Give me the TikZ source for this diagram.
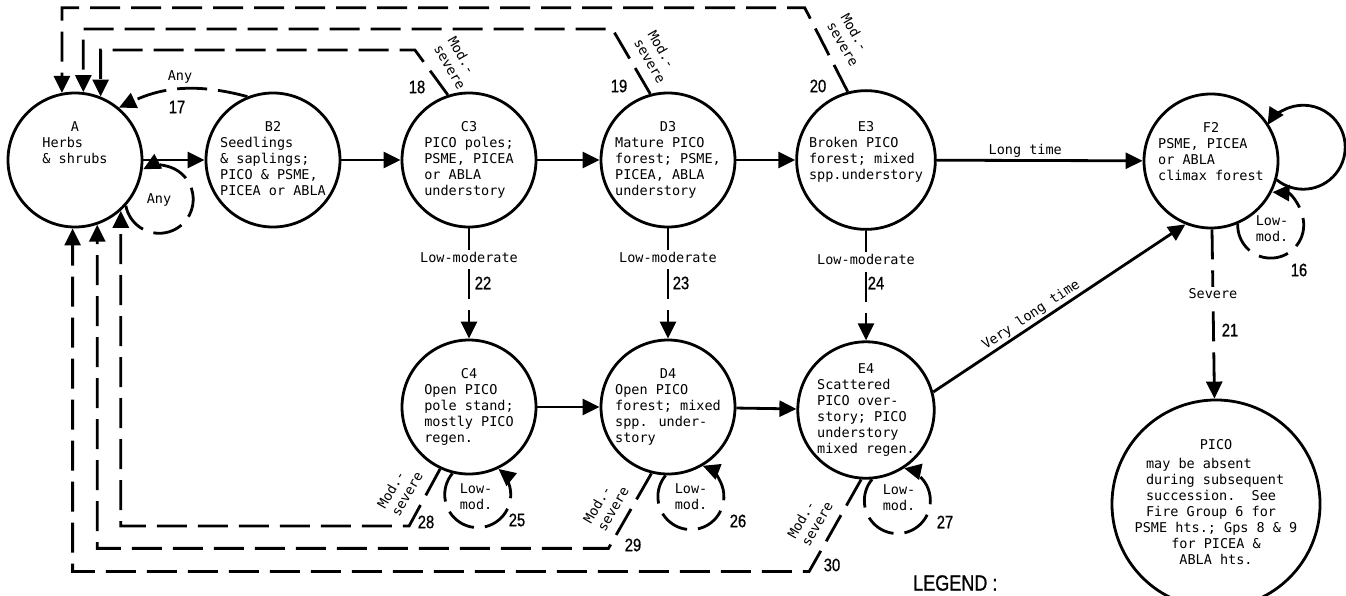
\documentclass[tikz,border=0pt]{standalone}
\usepackage{fontspec}
\usetikzlibrary{arrows.meta}
\newfontfamily\monofam{DejaVu Sans Mono}
\newfontfamily\numfam[FakeStretch=0.82,FakeBold=0.8]{Liberation Sans}
\newcommand{\stagefont}{\monofam\fontsize{13.5}{16}\selectfont}
\newcommand{\firenumfont}{\numfam\fontsize{18}{18}\selectfont}
\newcommand{\legendfont}{\numfam\fontsize{22}{22}\selectfont}
\newcommand{\stagetext}[2]{\begin{tabular}{@{}l@{}}\multicolumn{1}{@{}c@{}}{#1}\\#2\end{tabular}}
\tikzset{
  stage/.style={circle, draw, line width=2.8pt, minimum size=134pt, inner sep=0pt, font=\stagefont},
  succ/.style={line width=2.8pt, -{Triangle[length=17pt,width=16pt]}},
  burn/.style={succ, dash pattern=on 30pt off 11pt},
  note/.style={font=\stagefont, inner sep=2pt},
  firenum/.style={font=\firenumfont, inner sep=0pt}
}
\begin{document}
\begin{tikzpicture}[x=1pt,y=1pt]
\useasboundingbox (0,0) rectangle (1346,-595);
% stages, upper row
\node[stage] (A)  at (75,-160)   {\stagetext{A}{Herbs\\\& shrubs\\~\\~}};
\node[stage] (B2) at (273,-160)  {\stagetext{B2}{Seedlings\\\& saplings;\\PICO \& PSME,\\PICEA or ABLA}};
\node[stage] (C3) at (469,-160)  {\stagetext{C3}{PICO poles;\\PSME, PICEA\\or ABLA\\understory}};
\node[stage] (D3) at (668,-160)  {\stagetext{D3}{Mature PICO\\forest; PSME,\\PICEA, ABLA\\understory}};
\node[stage] (E3) at (866,-160)  {\stagetext{E3}{Broken PICO\\forest; mixed\\spp.understory\\~}};
\node[stage] (F2) at (1211,-161) {\stagetext{F2}{PSME, PICEA\\or ABLA\\climax forest\\~}};
% stages, lower row
\node[stage] (C4) at (469,-407)  {\stagetext{C4}{Open PICO\\pole stand;\\mostly PICO\\regen.}};
\node[stage] (D4) at (668,-407)  {\stagetext{D4}{Open PICO\\forest; mixed\\spp. under-\\story}};
\node[stage] (E4) at (866,-410)  {\stagetext{E4}{Scattered\\PICO over-\\story; PICO\\understory\\mixed regen.}};
\node[stage, minimum size=180pt] (pico) at (1216,-504) {\begin{tabular}{@{}c@{}}PICO\\[3pt]
  \makebox[140pt][l]{may be absent}\\\makebox[140pt][l]{during subsequent}\\
  \makebox[140pt][l]{succession.\ \ See}\\\makebox[140pt][l]{Fire Group 6 for}\\
  PSME hts.; Gps 8 \& 9\\for PICEA \&\\ABLA hts.\end{tabular}};

% succession
\draw[succ] (A) -- (B2);
\draw[succ] (B2) -- (C3);
\draw[succ] (C3) -- (D3);
\draw[succ] (D3) -- (E3);
\draw[succ] (E3) -- node[note, above, pos=0.43] (lt) {Long time} (F2);
\draw[succ] (C4) -- (D4);
\draw[succ] (D4) -- (E4);
\draw[succ] (E4.15) -- node[note, above, sloped, pos=0.41] (vlt) {Very long time} (F2.-112);
\draw[succ] (F2.-16) arc[start angle=231, end angle=508, radius=42];

% low-moderate fires
\draw[burn] (C3) -- node[note, fill=white, pos=0.26] (lm22) {Low-moderate} (C4);
\draw[burn] (D3) -- node[note, fill=white, pos=0.26] (lm23) {Low-moderate} (D4);
\draw[burn] (E3) -- node[note, fill=white, pos=0.26] (lm24) {Low-moderate} (E4);
\draw[burn] (F2) -- node[note, fill=white, pos=0.38] (sv21) {Severe} (pico);

% loops
\draw[burn] (A.-42) arc[start angle=191, end angle=478, radius=34];
\draw[burn] (C4.-104) arc[start angle=140, end angle=411, radius=33];
\draw[burn] (D4.-92) arc[start angle=140, end angle=429, radius=33];
\draw[burn] (E4.-85) arc[start angle=140, end angle=438, radius=33];
\draw[burn] (F2.-67.5) arc[start angle=178, end angle=447, radius=33];
\node[note] (any) at (159,-200) {Any};
\node[note, align=left] (lm25) at (476,-497) {Low-\\mod.};
\node[note, align=left] (lm26) at (691,-497) {Low-\\mod.};
\node[note, align=left] (lm27) at (899,-498) {Low-\\mod.};
\node[note, align=left] (lm16) at (1272,-229) {Low-\\mod.};

% back to A
\draw[burn] (B2.112) to[out=165, in=25] (A.50);
\node[note] (any17) at (180,-77) {Any};
\draw[burn] (C3.108) -- ++(-33,45) -| (A.68);
\draw[burn] (D3.105) -- ++(-38,65) -| (A.83);
\draw[burn] (E3.105) -- ++(-43,84) -| (A.101);
\draw[burn] (C4.-115) -- ++(-31,-57) -| (A.-48);
\draw[burn] (D4.-104) -- ++(-43,-75) -| (A.-71);
\draw[burn] (E4.-94) -- ++(-52,-92) -| (A.-92);
\node[note, rotate=-60, align=left] (ms18) at (457,-63) {Mod.-\\severe};
\node[note, rotate=-60, align=left] (ms19) at (657,-57) {Mod.-\\severe};
\node[note, rotate=-60, align=left] (ms20) at (850,-40) {Mod.-\\severe};
\node[note, rotate=60, align=left] (ms28) at (400,-490) {Mod.-\\severe};
\node[note, rotate=60, align=left] (ms29) at (606,-505) {Mod.-\\severe};
\node[note, rotate=60, align=left] (ms30) at (810,-520) {Mod.-\\severe};

% fire numbers
\node[firenum] (n16) at (1299,-270) {16};
\node[firenum] (n17) at (177,-107) {17};
\node[firenum] (n18) at (417,-87) {18};
\node[firenum] (n19) at (619,-86) {19};
\node[firenum] (n20) at (818,-86) {20};
\node[firenum] (n21) at (1230,-330) {21};
\node[firenum] (n22) at (483,-283) {22};
\node[firenum] (n23) at (681,-283) {23};
\node[firenum] (n24) at (876,-283) {24};
\node[firenum] (n25) at (517,-520) {25};
\node[firenum] (n26) at (738,-521) {26};
\node[firenum] (n27) at (945,-522) {27};
\node[firenum] (n28) at (426,-522) {28};
\node[firenum] (n29) at (633,-545) {29};
\node[firenum] (n30) at (832,-565) {30};

\node[font=\legendfont, anchor=west, inner sep=0pt] (legend) at (913,-583) {LEGEND :};
\end{tikzpicture}
\end{document}
